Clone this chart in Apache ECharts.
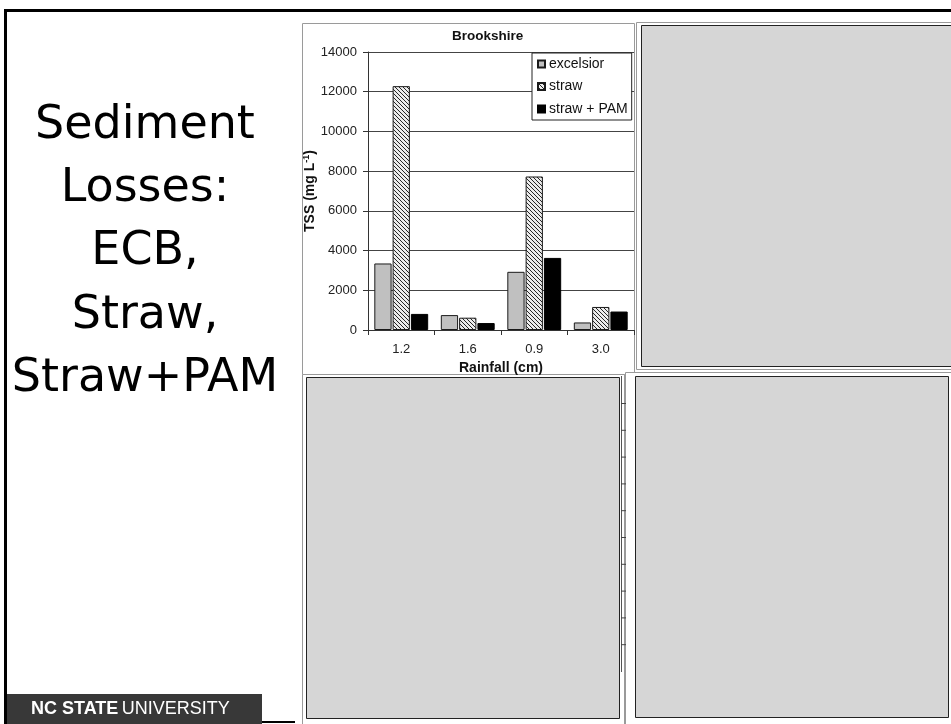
<!DOCTYPE html>
<html>
<head>
<meta charset="utf-8">
<script src="https://cdn.jsdelivr.net/npm/echarts@6/dist/echarts.min.js"></script>
<style>
  html, body { margin: 0; padding: 0; background: #ffffff; }
  #chart { width: 951px; height: 724px; }
</style>
</head>
<body>
<div id="chart"></div>
<script>
// Rainfall events (cm) on the category axis
const rainfall = ['1.2', '1.6', '0.9', '3.0'];

// Total suspended solids, mg/L, per treatment
const excelsior = [3350, 750, 2930, 380];
const straw = [12280, 620, 7730, 1160];
const strawPam = [810, 350, 3630, 930];

// Value-axis ticks
const tssMin = 0;
const tssMax = 14000;
const tssStep = 2000;

// Slide heading, one entry per line
const headingLines = ['Sediment', 'Losses:', 'ECB,', 'Straw,', 'Straw+PAM'];

// Diagonal hatch used for the straw bars
function makeHatch() {
  const c = document.createElement('canvas');
  c.width = 4; c.height = 4;
  const g = c.getContext('2d');
  g.fillStyle = '#ececec';
  g.fillRect(0, 0, 4, 4);
  g.strokeStyle = '#262626';
  g.lineWidth = 1;
  g.beginPath();
  g.moveTo(0, 0); g.lineTo(4, 4);
  g.moveTo(-1, 3); g.lineTo(1, 5);
  g.moveTo(3, -1); g.lineTo(5, 1);
  g.stroke();
  return c;
}
const hatchFill = { image: makeHatch(), repeat: 'repeat' };

const chart = echarts.init(document.getElementById('chart'), null, { renderer: 'canvas' });

const panelGray = '#d6d6d6';
const frameGray = '#9a9a9a';

// Slide decoration: border, heading, empty panels, footer
const deco = [];
deco.push({ type: 'rect', z: -10, shape: { x: 4, y: 9, width: 3, height: 715 }, style: { fill: '#000' } });
deco.push({ type: 'rect', z: -10, shape: { x: 4, y: 9, width: 947, height: 3 }, style: { fill: '#000' } });

headingLines.forEach(function (t, i) {
  deco.push({
    type: 'text', z: 5,
    style: {
      text: t, x: 145, y: 126 + i * 63.25,
      align: 'center', verticalAlign: 'middle',
      font: '46px "DejaVu Sans", Verdana, sans-serif', fill: '#000'
    }
  });
});

// Frame behind the bar chart
deco.push({ type: 'rect', z: -5, shape: { x: 302.5, y: 23.5, width: 332, height: 351 },
  style: { fill: '#fff', stroke: frameGray, lineWidth: 1 } });

// Top-right panel
deco.push({ type: 'rect', z: -5, shape: { x: 636.5, y: 22.5, width: 330, height: 347 },
  style: { fill: '#fff', stroke: frameGray, lineWidth: 1 } });
deco.push({ type: 'rect', z: -4, shape: { x: 641.5, y: 25.5, width: 330, height: 341 },
  style: { fill: panelGray, stroke: '#222', lineWidth: 1 } });

// Bottom-left panel
deco.push({ type: 'rect', z: -5, shape: { x: 302.5, y: 374.5, width: 322, height: 360 },
  style: { fill: '#fff', stroke: frameGray, lineWidth: 1 } });
deco.push({ type: 'rect', z: -4, shape: { x: 306.5, y: 377.5, width: 313, height: 341 },
  style: { fill: panelGray, stroke: '#222', lineWidth: 1 } });
deco.push({ type: 'line', z: -3, shape: { x1: 621.5, y1: 376, x2: 621.5, y2: 672 },
  style: { stroke: '#555', lineWidth: 1 } });
for (let k = 0; k < 10; k++) {
  const yy = 403.5 + k * 26.8;
  deco.push({ type: 'line', z: -3, shape: { x1: 621, y1: yy, x2: 626, y2: yy },
    style: { stroke: '#444', lineWidth: 1 } });
}

// Bottom-right panel
deco.push({ type: 'rect', z: -5, shape: { x: 625.5, y: 372.5, width: 340, height: 360 },
  style: { fill: '#fff', stroke: frameGray, lineWidth: 1 } });
deco.push({ type: 'rect', z: -4, shape: { x: 635.5, y: 376.5, width: 313, height: 341 },
  style: { fill: panelGray, stroke: '#222', lineWidth: 1 } });

// Footer
deco.push({ type: 'rect', z: 5, shape: { x: 7, y: 694, width: 255, height: 30 }, style: { fill: '#383838' } });
deco.push({ type: 'rect', z: 5, shape: { x: 262, y: 721, width: 33, height: 2 }, style: { fill: '#000' } });
deco.push({
  type: 'text', z: 6,
  style: {
    text: '{b|NC STATE} {n|UNIVERSITY}', x: 31, y: 709, verticalAlign: 'middle',
    rich: {
      b: { fontFamily: '"Liberation Sans", Arial, sans-serif', fontSize: 18, fontWeight: 'bold', fill: '#fff' },
      n: { fontFamily: '"Liberation Sans", Arial, sans-serif', fontSize: 18, fill: '#fff' }
    }
  }
});

const axisFont = '"Liberation Sans", Arial, sans-serif';
const ink = '#111';

const option = {
  animation: false,
  backgroundColor: '#fff',
  title: {
    text: 'Brookshire',
    left: 452, top: 29, padding: 0,
    textStyle: { fontFamily: axisFont, fontSize: 13.5, fontWeight: 'bold', color: ink }
  },
  legend: {
    orient: 'vertical',
    left: 532, top: 53,
    padding: [4, 4, 4, 5],
    backgroundColor: '#fff',
    borderColor: '#222', borderWidth: 1, borderRadius: 0,
    itemWidth: 7, itemHeight: 7, itemGap: 8.5,
    icon: 'rect',
    textStyle: { fontFamily: axisFont, fontSize: 14, color: ink, lineHeight: 14, padding: [0, 0, 0, -1] },
    data: ['excelsior', 'straw', 'straw + PAM']
  },
  grid: {
    left: 368, top: 52, width: 266, height: 278,
    containLabel: false, outerBoundsMode: 'none'
  },
  xAxis: {
    type: 'category',
    data: rainfall,
    axisLine: { lineStyle: { color: '#333', width: 1 } },
    axisTick: { show: true, length: 5, lineStyle: { color: '#333' } },
    axisLabel: { fontFamily: axisFont, fontSize: 13, color: '#222', margin: 13 },
    name: 'Rainfall (cm)',
    nameLocation: 'middle', nameGap: 31,
    nameTextStyle: { fontFamily: axisFont, fontSize: 14, fontWeight: 'bold', color: ink }
  },
  yAxis: {
    type: 'value',
    min: tssMin, max: tssMax, interval: tssStep,
    axisLine: { show: true, lineStyle: { color: '#333', width: 1 } },
    axisTick: { show: true, length: 5, lineStyle: { color: '#333' } },
    axisLabel: {
      fontFamily: axisFont, fontSize: 13, color: '#222', margin: 11,
      formatter: function (v) { return String(v); }
    },
    splitLine: { show: true, lineStyle: { color: '#444', width: 1 } },
    name: '{t|TSS (mg L}{s|-1}{t|)}',
    nameLocation: 'middle', nameRotate: 90, nameGap: 29,
    nameTextStyle: {
      rich: {
        t: { fontFamily: axisFont, fontSize: 14, fontWeight: 'bold', color: ink, lineHeight: 16 },
        s: { fontFamily: axisFont, fontSize: 9, fontWeight: 'bold', color: ink, lineHeight: 9, verticalAlign: 'top' }
      }
    }
  },
  series: [
    {
      name: 'excelsior', type: 'bar', data: excelsior,
      barCategoryGap: '19%', barGap: '6%',
      itemStyle: { color: '#c0c0c0', borderColor: '#1a1a1a', borderWidth: 1 }
    },
    {
      name: 'straw', type: 'bar', data: straw,
      itemStyle: { color: hatchFill, borderColor: '#1a1a1a', borderWidth: 1 }
    },
    {
      name: 'straw + PAM', type: 'bar', data: strawPam,
      itemStyle: { color: '#000', borderColor: '#000', borderWidth: 1 }
    }
  ],
  graphic: { elements: deco }
};

chart.setOption(option);
</script>
</body>
</html>
